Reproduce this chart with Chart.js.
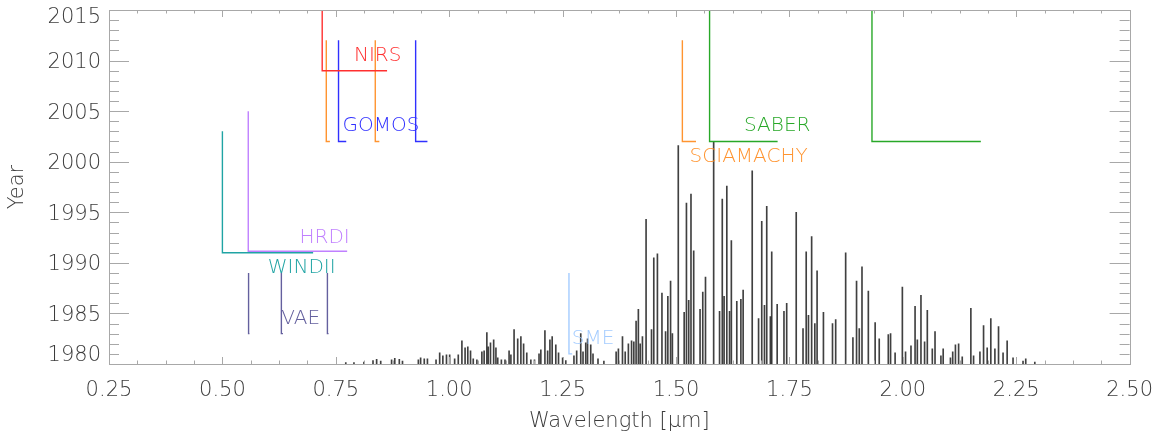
<!DOCTYPE html>
<html>
<head>
<meta charset="utf-8">
<script src="https://cdn.jsdelivr.net/npm/chart.js@4/dist/chart.umd.min.js"></script>
<style>
  html, body { margin: 0; padding: 0; background: #fff; }
  #wrap { width: 1167px; height: 432px; position: relative; }
</style>
</head>
<body>
<div id="wrap"><canvas id="c"></canvas></div>
<script>
// ---------------- data ----------------
// Airglow emission lines: wavelength [µm] and top of each line on the year axis
const lineWavelength = [
  0.772, 0.790, 0.812, 0.832, 0.840, 0.849, 0.873, 0.880, 0.890, 0.897,
  0.932, 0.937, 0.945, 0.952, 0.971, 0.979, 0.986, 0.994, 1.001, 1.012,
  1.020, 1.028, 1.035, 1.041, 1.047, 1.053, 1.061, 1.072, 1.077, 1.083,
  1.086, 1.091, 1.098, 1.103, 1.107, 1.115, 1.123, 1.132, 1.136, 1.143,
  1.151, 1.158, 1.164, 1.171, 1.180, 1.188, 1.198, 1.202, 1.211, 1.217,
  1.222, 1.227, 1.235, 1.241, 1.250, 1.257, 1.275, 1.281, 1.290, 1.295,
  1.301, 1.305, 1.312, 1.317, 1.328, 1.341, 1.368, 1.373, 1.382, 1.388,
  1.395, 1.402, 1.407, 1.412, 1.417, 1.421, 1.426, 1.434, 1.446, 1.451,
  1.459, 1.469, 1.477, 1.482, 1.488, 1.492, 1.505, 1.518, 1.523, 1.528,
  1.533, 1.539, 1.553, 1.559, 1.565, 1.583, 1.596, 1.602, 1.606, 1.612,
  1.618, 1.622, 1.634, 1.643, 1.648, 1.668, 1.682, 1.689, 1.695, 1.700,
  1.708, 1.711, 1.723, 1.738, 1.744, 1.765, 1.780, 1.787, 1.792, 1.799,
  1.806, 1.811, 1.825, 1.845, 1.852, 1.874, 1.890, 1.898, 1.904, 1.910,
  1.924, 1.939, 1.948, 1.968, 1.973, 1.983, 1.999, 2.006, 2.018, 2.027,
  2.032, 2.040, 2.048, 2.054, 2.065, 2.071, 2.084, 2.089, 2.105, 2.110,
  2.116, 2.123, 2.131, 2.150, 2.156, 2.170, 2.178, 2.186, 2.194, 2.203,
  2.211, 2.221, 2.230, 2.243, 2.265, 2.271, 2.291
];
const lineTopYear = [
  1980.15, 1980.15, 1980.2, 1980.35, 1980.45, 1980.3, 1980.4, 1980.55, 1980.45, 1980.3,
  1980.4, 1980.6, 1980.5, 1980.5, 1980.4, 1981.1, 1980.8, 1980.9, 1980.9, 1980.5,
  1980.9, 1982.3, 1981.6, 1981.7, 1981.3, 1980.5, 1980.4, 1981.2, 1981.3, 1983.1,
  1981.7, 1982.1, 1982.4, 1981.6, 1980.6, 1980.4, 1980.4, 1981.3, 1980.9, 1983.4,
  1982.5, 1982.7, 1982.0, 1981.1, 1980.4, 1980.4, 1981.0, 1981.4, 1983.3, 1981.3,
  1982.4, 1982.7, 1981.9, 1981.1, 1980.6, 1980.35, 1980.8, 1981.3, 1983.0, 1981.2,
  1982.1, 1982.5, 1981.9, 1981.0, 1980.5, 1980.3, 1981.2, 1981.5, 1982.7, 1981.2,
  1982.0, 1982.3, 1982.2, 1984.25, 1985.4, 1982.0, 1982.7, 1994.3, 1983.4, 1990.5,
  1990.9, 1987.0, 1983.2, 1986.7, 1988.2, 1983.0, 2001.6, 1985.1, 1995.9, 1986.3,
  1996.8, 1991.2, 1985.4, 1987.1, 1988.6, 2002.0, 1985.2, 1996.3, 1986.7, 1997.6,
  1985.2, 1992.2, 1986.2, 1986.4, 1987.3, 1999.1, 1984.5, 1994.1, 1985.8, 1995.6,
  1984.7, 1991.1, 1985.9, 1985.2, 1986.0, 1995.0, 1983.5, 1991.1, 1984.8, 1992.6,
  1984.0, 1989.2, 1985.1, 1984.0, 1984.4, 1991.0, 1982.6, 1988.2, 1983.5, 1989.6,
  1987.2, 1984.1, 1982.5, 1982.9, 1983.0, 1981.1, 1987.6, 1981.2, 1981.8, 1985.7,
  1982.4, 1986.8, 1982.2, 1985.3, 1981.5, 1983.2, 1980.8, 1981.5, 1980.6, 1981.2,
  1981.9, 1982.0, 1980.7, 1985.5, 1980.8, 1981.2, 1983.8, 1981.6, 1984.5, 1981.5,
  1983.7, 1981.1, 1982.3, 1980.6, 1980.3, 1980.5, 1980.2
];

// Instruments: name, years covered [start, end], spectral bands [from, to] (µm)
const instNames   = ['NIRS', 'SCIAMACHY', 'GOMOS', 'SABER', 'HRDI', 'WINDII', 'VAE', 'SME'];
const instYears   = [[2009, 2015], [2002, 2012], [2002, 2012], [2002, 2015],
                     [1991.15, 2005], [1991, 2003], [1983, 1989], [1981, 1989]];
const instBands   = [
  [[0.720, 0.863]],
  [[0.729, 0.737], [0.837, 0.846], [1.514, 1.544]],
  [[0.756, 0.773], [0.926, 0.952]],
  [[1.574, 1.724], [1.932, 2.172]],
  [[0.557, 0.775]],
  [[0.500, 0.700]],
  [[0.5577, 0.5597], [0.630, 0.6335], [0.7315, 0.734]],
  [[1.264, 1.271]]
];
// label anchor (left, baseline) in data units
const instLabelAt = [[0.79, 2010], [1.53, 2000], [0.765, 2003], [1.65, 2003],
                     [0.67, 1992], [0.60, 1989], [0.63, 1984], [1.27, 1982]];

// axis
const xMin = 0.25, xMax = 2.50, xStep = 0.25, xMinorStep = 0.0625;
const yMin = 1980, yMax = 2015, yStep = 5, yMinorStep = 1;

// ---------------- styles ----------------
const instColors = ['#ff3030', '#ff9430', '#3030ff', '#28a828', '#c080ff', '#20a4a4', '#64609e', '#a4ccff'];
const FONT = "'DejaVu Sans', 'Liberation Sans', sans-serif";
const WEIGHT = '200';
const FRAME = '#a8a8a8';
const TEXT = '#3c3c3c';

// ---------------- datasets ----------------
const datasets = [];
datasets.push({
  type: 'bar',
  label: 'spectrum',
  data: lineWavelength.map((w, i) => ({ x: w, y: [yMin, lineTopYear[i]] })),
  backgroundColor: 'rgba(0,0,0,0.75)',
  borderWidth: 0,
  barThickness: 1,
  grouped: false,
  order: 2
});
instNames.forEach((name, k) => {
  const [y0, y1] = instYears[k];
  instBands[k].forEach(([a, b]) => {
    datasets.push({
      type: 'line',
      label: name,
      data: [{ x: a, y: y1 }, { x: a, y: y0 }, { x: b, y: y0 }],
      borderColor: instColors[k],
      borderWidth: 1.4,
      pointRadius: 0,
      fill: false,
      tension: 0,
      order: 1
    });
  });
});

// ---------------- plugin: frame, inward ticks, labels ----------------
const decor = {
  id: 'decor',
  afterDatasetsDraw(chart) {
    const { ctx, chartArea: ca, scales: { x, y } } = chart;
    ctx.save();
    // instrument labels
    ctx.font = WEIGHT + ' 20px ' + FONT;
    ctx.textAlign = 'left';
    ctx.textBaseline = 'alphabetic';
    instNames.forEach((n, k) => {
      ctx.fillStyle = instColors[k];
      ctx.fillText(n, x.getPixelForValue(instLabelAt[k][0]), y.getPixelForValue(instLabelAt[k][1]));
    });
    // frame
    ctx.strokeStyle = FRAME;
    ctx.lineWidth = 1;
    ctx.strokeRect(Math.round(ca.left) + 0.5, Math.round(ca.top) + 0.5,
                   Math.round(ca.right - ca.left), Math.round(ca.bottom - ca.top));
    // x ticks (top & bottom, inward)
    ctx.beginPath();
    const nx = Math.round((xMax - xMin) / xMinorStep);
    for (let i = 0; i <= nx; i++) {
      const v = xMin + i * xMinorStep;
      const px = Math.round(x.getPixelForValue(v)) + 0.5;
      const major = i % 4 === 0;
      const len = major ? 7 : 3.5;
      ctx.moveTo(px, ca.bottom); ctx.lineTo(px, ca.bottom - len);
      ctx.moveTo(px, ca.top); ctx.lineTo(px, ca.top + len);
    }
    // y ticks (left & right, inward)
    const ny = Math.round((yMax - yMin) / yMinorStep);
    for (let i = 0; i <= ny; i++) {
      const v = yMin + i * yMinorStep;
      const py = Math.round(y.getPixelForValue(v)) + 0.5;
      const major = i % 5 === 0;
      const len = major ? 20 : 10;
      ctx.moveTo(ca.left, py); ctx.lineTo(ca.left + len, py);
      ctx.moveTo(ca.right, py); ctx.lineTo(ca.right - len, py);
    }
    ctx.stroke();
    // y tick labels (kept inside the frame height at the ends)
    ctx.fillStyle = TEXT;
    ctx.font = WEIGHT + ' 21px ' + FONT;
    ctx.textAlign = 'right';
    ctx.textBaseline = 'middle';
    y.ticks.forEach(t => {
      let py = y.getPixelForValue(t.value) + 2;
      py = Math.max(ca.top + 8, Math.min(ca.bottom - 8, py));
      ctx.fillText(String(t.value), ca.left - 8, py);
    });
    ctx.restore();
  }
};

new Chart(document.getElementById('c'), {
  data: { datasets },
  options: {
    responsive: true,
    maintainAspectRatio: false,
    animation: false,
    layout: { padding: { top: 10, right: 30, left: 0, bottom: 0 } },
    plugins: { legend: { display: false }, tooltip: { enabled: false } },
    scales: {
      x: {
        type: 'linear',
        offset: false,
        min: xMin, max: xMax,
        grid: { display: false, drawTicks: false, offset: false },
        border: { display: false },
        ticks: {
          stepSize: xStep,
          color: TEXT,
          font: { family: FONT, size: 21, weight: WEIGHT },
          padding: 14,
          maxRotation: 0,
          autoSkip: false,
          callback: v => Number(v).toFixed(2)
        },
        title: { display: true, text: 'Wavelength [µm]', color: TEXT,
                 font: { family: FONT, size: 21, weight: WEIGHT }, padding: { top: 0, bottom: -2 } },
        afterFit: s => { s.height = 68; }
      },
      y: {
        type: 'linear',
        min: yMin, max: yMax,
        grid: { display: false, drawTicks: false },
        border: { display: false },
        ticks: { stepSize: yStep, display: false },
        title: { display: true, text: 'Year', color: TEXT,
                 font: { family: FONT, size: 21, weight: WEIGHT }, padding: { top: 5, bottom: 0 } },
        afterFit: s => { s.width = 109; }
      }
    }
  },
  plugins: [decor]
});
</script>
</body>
</html>
